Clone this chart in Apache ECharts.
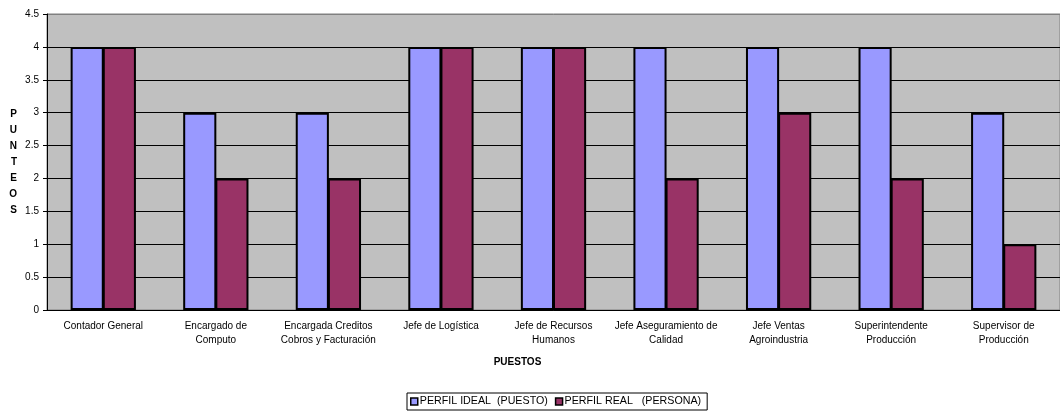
<!DOCTYPE html>
<html>
<head>
<meta charset="utf-8">
<script src="https://cdn.jsdelivr.net/npm/echarts@6/dist/echarts.min.js"></script>
<style>
  html, body { margin: 0; padding: 0; background: #fff; }
  #chart { width: 1060px; height: 411px; }
</style>
</head>
<body>
<div id="chart"></div>
<script>
// Puestos evaluados
const puestos = [
  'Contador General',
  'Encargado de\nComputo',
  'Encargada Creditos\nCobros y Facturación',
  'Jefe de Logística',
  'Jefe de Recursos\nHumanos',
  'Jefe Aseguramiento de\nCalidad',
  'Jefe Ventas\nAgroindustria',
  'Superintendente\nProducción',
  'Supervisor de\nProducción'
];
const perfilIdeal = [4, 3, 3, 4, 4, 4, 4, 4, 3];
const perfilReal  = [4, 2, 2, 4, 4, 2, 3, 2, 1];
const nombresSeries = ['PERFIL IDEAL  (PUESTO)', 'PERFIL REAL   (PERSONA)'];

const font = 'Liberation Sans, Arial, sans-serif';
const chart = echarts.init(document.getElementById('chart'), null, { renderer: 'canvas' });

chart.setOption({
  animation: false,
  backgroundColor: '#ffffff',
  textStyle: { fontFamily: font },
  grid: {
    left: 47, right: -9, top: 14, bottom: 101,
    show: true, backgroundColor: '#C0C0C0', borderColor: '#808080', borderWidth: 1,
    containLabel: false
  },
  legend: {
    top: 393, left: 407,
    itemWidth: 7, itemHeight: 7, itemGap: 7,
    borderColor: '#000', borderWidth: 1, padding: [3, 6, 3, 3],
    icon: 'rect',
    itemStyle: { borderColor: '#000', borderWidth: 1.5 },
    textStyle: { fontSize: 10.7, color: '#000', fontFamily: font, padding: [0, 0, 0, -3] },
    data: nombresSeries
  },
  xAxis: {
    type: 'category',
    data: puestos,
    name: 'PUESTOS',
    nameLocation: 'middle',
    nameGap: 47,
    nameTextStyle: { fontSize: 10, fontWeight: 'bold', color: '#000', fontFamily: font, padding: [0, 72, 0, 0] },
    axisLine: { lineStyle: { color: '#000', width: 1 } },
    axisTick: { length: 4, lineStyle: { color: '#000' } },
    axisLabel: { fontSize: 10, color: '#000', lineHeight: 14, margin: 9, interval: 0, fontFamily: font }
  },
  yAxis: {
    type: 'value',
    min: 0, max: 4.5, interval: 0.5,
    name: 'P\nU\nN\nT\nE\nO\nS',
    nameLocation: 'middle',
    nameRotate: 0,
    nameGap: 30,
    nameTextStyle: { fontSize: 10, fontWeight: 'bold', color: '#000', lineHeight: 16, fontFamily: font },
    axisLine: { show: true, lineStyle: { color: '#000', width: 1 } },
    axisTick: { show: true, length: 4, lineStyle: { color: '#000' } },
    axisLabel: { fontSize: 10, color: '#000', margin: 8, fontFamily: font },
    splitLine: {
      show: true,
      lineStyle: {
        color: ['#000', '#000', '#000', '#000', '#000', '#000', '#000', '#000', '#000', '#808080'],
        width: 1
      }
    }
  },
  series: [
    {
      name: nombresSeries[0],
      type: 'bar',
      data: perfilIdeal,
      barGap: '-3%',
      barCategoryGap: '42%',
      itemStyle: { color: '#9999FF', borderColor: '#000', borderWidth: 2 }
    },
    {
      name: nombresSeries[1],
      type: 'bar',
      data: perfilReal,
      itemStyle: { color: '#993366', borderColor: '#000', borderWidth: 2 }
    }
  ]
});
</script>
</body>
</html>
